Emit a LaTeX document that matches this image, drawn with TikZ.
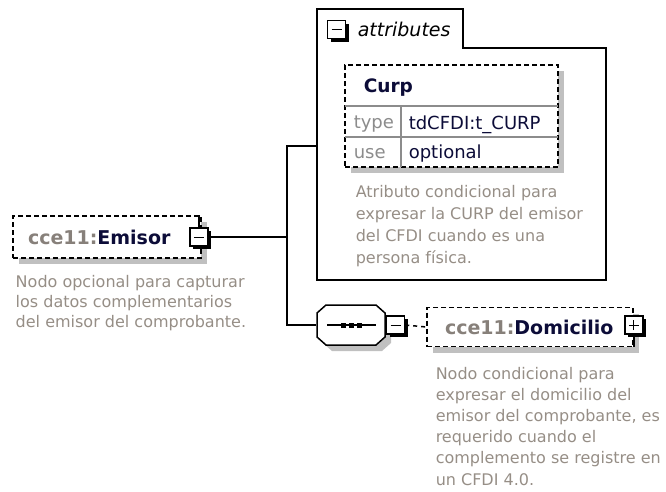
\documentclass[tikz,border=0pt]{standalone}
\usepackage{fontspec}
\setmainfont{DejaVu Sans}
\usetikzlibrary{positioning,shadows}

\definecolor{doccolor}{RGB}{150,142,134}
\definecolor{nscolor}{RGB}{135,128,122}
\definecolor{namecolor}{RGB}{12,12,56}
\definecolor{shadecolor}{RGB}{192,192,192}
\definecolor{gridcolor}{RGB}{140,140,140}

\newcommand{\elname}[2]{{\color{nscolor}#1:}{\color{namecolor}#2}}

\begin{document}
\begin{tikzpicture}[x=1pt,y=-1pt,line width=1.5pt,
		elem/.style={draw,dash pattern=on 5pt off 3pt,fill=white,minimum height=40pt,
			align=left,inner ysep=0pt,font=\fontsize{19}{22}\selectfont\bfseries,
			drop shadow={shadow xshift=6pt,shadow yshift=-6pt,fill=shadecolor,opacity=1}},
		btn/.style={draw,fill=white,minimum size=18pt,inner sep=0pt,
			drop shadow={shadow xshift=3pt,shadow yshift=-3pt,fill=black,opacity=1}},
		minusbtn/.style={btn,path picture={\draw[line width=1pt]
			([xshift=4pt]path picture bounding box.west) -- ([xshift=-4pt]path picture bounding box.east);}},
		plusbtn/.style={btn,path picture={\draw[line width=1pt]
			([xshift=4pt]path picture bounding box.west) -- ([xshift=-4pt]path picture bounding box.east)
			([yshift=4pt]path picture bounding box.south) -- ([yshift=-4pt]path picture bounding box.north);}},
		seqbox/.style={minimum width=68pt,minimum height=40pt,inner sep=0pt},
		doc/.style={align=left,inner sep=0pt,text=doccolor,font=\fontsize{16}{21}\selectfont},
		cell/.style={inner sep=0pt,font=\fontsize{18}{22}\selectfont}]
	\useasboundingbox (0,0) rectangle (666,491);

	% Emisor element
	\node[elem,text width=158pt,inner xsep=15pt,minimum height=42pt] (emisor) at (107,237) {\elname{cce11}{Emisor}};
	\node[minusbtn] (emisorbtn) at ([xshift=-3pt]emisor.east) {};
	\draw (emisorbtn.north) -- (emisorbtn.north |- emisor.north);
	\node[doc,anchor=base west,font=\fontsize{16}{20}\selectfont] (emisordoc) at (15,327)
		{Nodo opcional para capturar\\los datos complementarios\\del emisor del comprobante.};

	% attributes
	\draw (317,9) -- (463,9) -- (463,48) -- (606,48) -- (606,280) -- (317,280) -- cycle;
	\coordinate (attrin) at (317,146);
	\node[minusbtn] (attrbtn) at (336.5,29.5) {};
	\node[anchor=base west,inner sep=0pt,font=\fontsize{19}{22}\selectfont\itshape] (attrlabel) at (357,36) {attributes};

	\node[elem,minimum width=213pt,minimum height=102pt] (curp) at (451.5,116) {};
	\draw[gridcolor] (345,106) -- (558,106) (345,137) -- (558,137) (401,106) -- (401,167);
	\node[cell,anchor=base west,font=\fontsize{18.5}{22}\selectfont\bfseries,text=namecolor] (curpname) at (363,92) {Curp};
	\node[cell,anchor=base west,text=gridcolor] (typekey) at (353,128.5) {type};
	\node[cell,anchor=base west,text=namecolor] (typeval) at (408,129) {tdCFDI:t\_CURP};
	\node[cell,anchor=base west,text=gridcolor] (usekey) at (353,158.5) {use};
	\node[cell,anchor=base west,text=namecolor] (useval) at (408,158.5) {optional};
	\node[doc,anchor=base west,font=\fontsize{16}{21.7}\selectfont] (attrdoc) at (355,263)
		{Atributo condicional para\\expresar la CURP del emisor\\del CFDI cuando es una\\persona física.};

	% sequence
	\node[seqbox] (seq) at (351,325) {};
	\fill[shadecolor,shift={(6,6)}] (317,313) -- (326,305) -- (376,305) -- (385,313)
		-- (385,337) -- (376,345) -- (326,345) -- (317,337) -- cycle;
	\draw[fill=white] (317,313) -- (326,305) -- (376,305) -- (385,313)
		-- (385,337) -- (376,345) -- (326,345) -- (317,337) -- cycle;
	\draw (seq.center) ++(-24,0) -- ++(49,0);
	\foreach \dx in {-8,0,8}
		\fill ([xshift=\dx pt]seq.center) ++(-2.5,-2.5) rectangle ++(5,5);
	\node[minusbtn,right=0pt of seq] (seqbtn) {};

	\coordinate (fork) at (287,237);
	\draw (emisorbtn.east) -- (fork);
	\draw (attrin) -| (fork) |- (seq.west);

	% Domicilio element
	\node[elem,text width=170pt,inner xsep=18pt,minimum height=39pt] (domicilio) at (530,327) {\elname{cce11}{Domicilio}};
	\draw[dash pattern=on 4pt off 4pt] (seqbtn.east) -- (domicilio.west);
	\node[plusbtn] (dombtn) at ([yshift=2pt]domicilio.east) {};
	\draw (dombtn.south) -- (dombtn.south |- domicilio.south);
	\node[doc,anchor=base west,font=\fontsize{16}{21.2}\selectfont] (domdoc) at (435,485)
		{Nodo condicional para\\expresar el domicilio del\\emisor del comprobante, es\\requerido cuando el\\complemento se registre en\\un CFDI 4.0.};
\end{tikzpicture}
\end{document}
